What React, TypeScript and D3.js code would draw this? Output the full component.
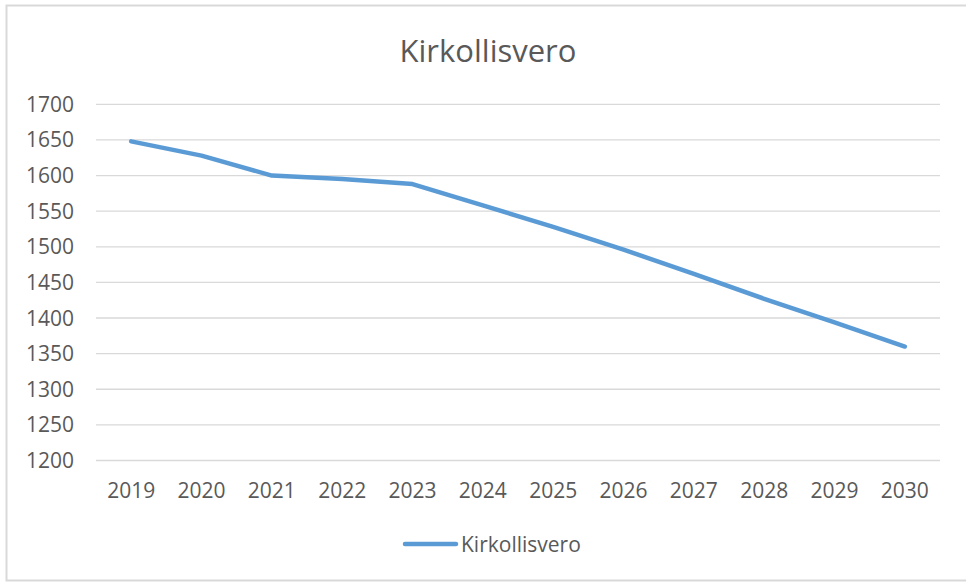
import React, { useEffect, useRef } from 'react';
import * as d3 from 'd3';

// values
const years = ['2019', '2020', '2021', '2022', '2023', '2024', '2025', '2026', '2027', '2028', '2029', '2030'];
const kirkollisvero = [1648, 1628, 1600, 1595, 1588, 1558, 1528, 1496, 1462, 1427, 1394, 1360];
const yTicks = [1200, 1250, 1300, 1350, 1400, 1450, 1500, 1550, 1600, 1650, 1700];
const seriesName = 'Kirkollisvero';
const chartTitle = 'Kirkollisvero';

export default function App() {
  const ref = useRef<SVGSVGElement>(null);

  useEffect(() => {
    const svg = d3.select(ref.current);
    svg.selectAll('*').remove();

    const width = 966;
    const height = 582;
    const font = '"Open Sans", "Liberation Sans", sans-serif';
    const textCol = '#595959';
    const gridCol = '#d9d9d9';
    const lineCol = '#5b9bd5';

    // chart frame
    svg.append('rect')
      .attr('x', 6.5).attr('y', 5.5)
      .attr('width', width + 10).attr('height', 575)
      .attr('fill', '#fff').attr('stroke', gridCol).attr('stroke-width', 2);

    const x = d3.scaleBand().domain(years).range([96, 940]);
    const y = d3.scaleLinear().domain([1200, 1700]).range([460.5, 104.3]);

    // gridlines
    svg.append('g').selectAll('line')
      .data(yTicks)
      .enter().append('line')
      .attr('x1', 96).attr('x2', 940)
      .attr('y1', d => y(d)).attr('y2', d => y(d))
      .attr('stroke', gridCol).attr('stroke-width', 1.3);

    // y labels
    svg.append('g').selectAll('text')
      .data(yTicks)
      .enter().append('text')
      .attr('x', 74)
      .attr('y', d => y(d) + 7.5)
      .attr('text-anchor', 'end')
      .style('font-family', font).style('font-size', '21px')
      .attr('fill', textCol)
      .text(d => d);

    // x labels
    svg.append('g').selectAll('text')
      .data(years)
      .enter().append('text')
      .attr('x', d => x(d)! + x.bandwidth() / 2)
      .attr('y', 498)
      .attr('text-anchor', 'middle')
      .style('font-family', font).style('font-size', '21px')
      .attr('fill', textCol)
      .text(d => d);

    // the line
    const line = d3.line<number>()
      .x((d, i) => x(years[i])! + x.bandwidth() / 2)
      .y(d => y(d));

    svg.append('path')
      .datum(kirkollisvero)
      .attr('d', line)
      .attr('fill', 'none')
      .attr('stroke', lineCol)
      .attr('stroke-width', 4.5)
      .attr('stroke-linejoin', 'round')
      .attr('stroke-linecap', 'round');

    // title
    svg.append('text')
      .attr('x', 488).attr('y', 61.5)
      .attr('text-anchor', 'middle')
      .style('font-family', font).style('font-size', '31px')
      .attr('fill', textCol)
      .text(chartTitle);

    // legend
    svg.append('line')
      .attr('x1', 405).attr('x2', 456)
      .attr('y1', 544).attr('y2', 544)
      .attr('stroke', lineCol).attr('stroke-width', 4.5)
      .attr('stroke-linecap', 'round');

    svg.append('text')
      .attr('x', 461).attr('y', 552)
      .style('font-family', font).style('font-size', '21px')
      .attr('fill', textCol)
      .text(seriesName);
  }, []);

  return (
    <svg ref={ref} width={966} height={582}
      style={{ position: 'absolute', left: 0, top: 0, background: '#fff' }} />
  );
}
